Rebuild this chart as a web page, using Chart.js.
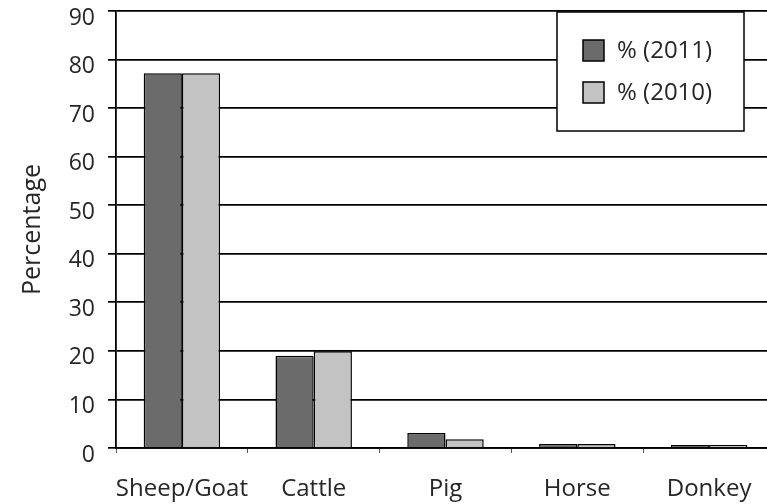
<!DOCTYPE html>
<html>
<head>
<meta charset="utf-8">
<script src="https://cdn.jsdelivr.net/npm/chart.js@4"></script>
<style>
html,body{margin:0;padding:0;background:#fff;overflow:hidden;}
#wrap{width:780px;height:504px;position:relative;}
</style>
</head>
<body>
<div id="wrap"><canvas id="c" width="780" height="504"></canvas></div>
<script>
const categories = ['Sheep/Goat', 'Cattle', 'Pig', 'Horse', 'Donkey'];
const pct2011 = [77.2, 19.0, 3.1, 0.8, 0.6];
const pct2010 = [77.2, 19.9, 1.8, 0.8, 0.6];
const seriesLabels = ['% (2011)', '% (2010)'];
const yMin = 0, yMax = 90, yStep = 10;

const FONT = '"Open Sans", "Noto Sans", sans-serif';
const TXT = '#262626';

const legendBox = {
  id: 'legendBox',
  afterDraw(chart) {
    const ctx = chart.ctx;
    ctx.save();
    ctx.fillStyle = '#fff';
    ctx.fillRect(557, 12, 187, 119);
    ctx.strokeStyle = '#000';
    ctx.lineWidth = 1.5;
    ctx.strokeRect(557, 12, 187, 119);
    chart.data.datasets.forEach((ds, i) => {
      const y = 40 + i * 42;
      ctx.fillStyle = ds.backgroundColor;
      ctx.fillRect(583, y, 21, 21);
      ctx.strokeStyle = '#000';
      ctx.lineWidth = 1.5;
      ctx.strokeRect(583, y, 21, 21);
      ctx.fillStyle = TXT;
      ctx.font = '24px ' + FONT;
      ctx.textBaseline = 'middle';
      ctx.textAlign = 'left';
      ctx.fillText(ds.label, 617, y + 11);
    });
    ctx.restore();
  }
};

new Chart(document.getElementById('c'), {
  type: 'bar',
  data: {
    labels: categories,
    datasets: [
      { label: seriesLabels[0], data: pct2011, backgroundColor: '#6b6b6b', borderColor: '#000', borderWidth: 1.5 },
      { label: seriesLabels[1], data: pct2010, backgroundColor: '#c3c3c3', borderColor: '#000', borderWidth: 1.5 }
    ]
  },
  options: {
    responsive: false,
    animation: false,
    layout: { padding: { left: 16, top: 0, right: 5, bottom: 0 } },
    plugins: { legend: { display: false }, tooltip: { enabled: false } },
    datasets: { bar: { categoryPercentage: 0.58, barPercentage: 1.0 } },
    scales: {
      x: {
        afterFit: s => { s.height = 56; s.paddingTop = 0; s.paddingBottom = 0; },
        grid: { display: true, drawOnChartArea: false, drawTicks: true, tickLength: 5, color: '#555', lineWidth: 1, offset: true },
        border: { display: true, color: '#000', width: 1.8 },
        ticks: { color: TXT, font: { family: FONT, size: 24 }, padding: 22, maxRotation: 0, minRotation: 0, autoSkip: false }
      },
      y: {
        min: yMin, max: yMax,
        afterFit: s => { s.width = 100; s.paddingTop = 11; s.paddingBottom = 0; },
        title: { display: true, text: 'Percentage', color: TXT, font: { family: FONT, size: 25 }, padding: 2 },
        grid: { color: '#000', lineWidth: 1.7, tickLength: 8, drawTicks: true },
        border: { display: true, color: '#000', width: 1.8 },
        ticks: { stepSize: yStep, color: TXT, font: { family: FONT, size: 23, lineHeight: 1 }, padding: 13, labelOffset: 7 }
      }
    }
  },
  plugins: [legendBox]
});
</script>
</body>
</html>
